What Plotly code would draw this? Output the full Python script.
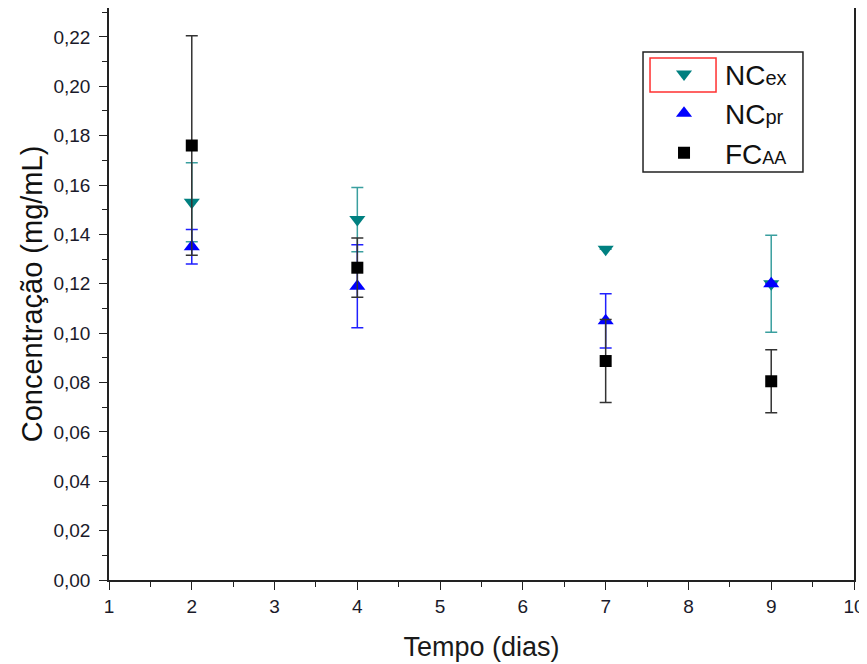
import plotly.graph_objects as go

days = [2, 4, 7, 9]
nc_ex = [0.153, 0.146, 0.134, 0.120]
nc_ex_err = [0.016, 0.013, 0.0, 0.0196]
nc_pr = [0.135, 0.119, 0.105, 0.120]
nc_pr_err = [0.007, 0.0168, 0.011, 0.0]
fc_aa = [0.176, 0.1265, 0.0887, 0.0805]
fc_aa_err = [0.0445, 0.012, 0.0168, 0.0128]

names = ["NC<span style='font-size:20px'>ex</span>",
         "NC<span style='font-size:20px'>pr</span>",
         "FC<span style='font-size:18px'>AA</span>"]

FONT = "Arial, Liberation Sans, sans-serif"
NARROW = "Liberation Sans Narrow, Arial Narrow, Liberation Sans, sans-serif"

fig = go.Figure()
fig.add_trace(go.Scatter(
    x=days, y=nc_ex, mode="markers", name=names[0],
    marker=dict(symbol="triangle-down", size=14, color="#008080"),
    error_y=dict(type="data", array=nc_ex_err, color="#3a9f9f", thickness=1.5, width=6)))
fig.add_trace(go.Scatter(
    x=days, y=nc_pr, mode="markers", name=names[1],
    marker=dict(symbol="triangle-up", size=14, color="#0000ff"),
    error_y=dict(type="data", array=nc_pr_err, color="#2020ff", thickness=1.5, width=6)))
fig.add_trace(go.Scatter(
    x=days, y=fc_aa, mode="markers", name=names[2],
    marker=dict(symbol="square", size=12, color="#000000"),
    error_y=dict(type="data", array=fc_aa_err, color="#333333", thickness=1.5, width=6)))

axis_font = dict(family=FONT, size=19, color="#1a1a2a")

fig.update_layout(
    width=859, height=656,
    margin=dict(l=101, r=13, t=0, b=84),
    plot_bgcolor="white", paper_bgcolor="white",
    separators=",.",
    font=dict(family=FONT, color="#111111"),
    xaxis=dict(range=[1, 10], dtick=1, tick0=1, showgrid=False, zeroline=False, automargin=False,
               showline=True, linecolor="#222222", linewidth=1.5,
               ticks="outside", ticklen=8, tickwidth=1.2, tickcolor="#222222",
               minor=dict(ticks="outside", ticklen=5, dtick=0.5, tickcolor="#222222", showgrid=False),
               tickfont=axis_font,
               title=dict(text="Tempo (dias)", font=dict(size=27, family=FONT, color="#1a1a1a"), standoff=22)),
    yaxis=dict(range=[0, 0.2317], dtick=0.02, tick0=0, tickformat=".2f", showgrid=False, zeroline=False,
               automargin=False, ticklabelstandoff=5,
               showline=True, linecolor="#222222", linewidth=1.5, mirror=True,
               ticks="outside", ticklen=8, tickwidth=1.2, tickcolor="#222222",
               minor=dict(ticks="outside", ticklen=5, dtick=0.01, tickcolor="#222222", showgrid=False),
               tickfont=axis_font,
               title=dict(text="Concentração (mg/mL)", font=dict(size=29, family=FONT, color="#111111"), standoff=2)),
    legend=dict(x=0.7168, y=0.928, xanchor="left", yanchor="top",
                bgcolor="rgba(255,255,255,0)", borderwidth=0,
                font=dict(size=28, family=NARROW, color="#111111"),
                itemwidth=72, tracegroupgap=4),
    showlegend=True,
)

# legend frame and the red highlight box around the first entry
fig.add_shape(type="rect", xref="paper", yref="paper",
              x0=0.7168, x1=0.9315, y0=0.7133, y1=0.923,
              line=dict(color="#222222", width=1.5), layer="above")
fig.add_shape(type="rect", xref="paper", yref="paper",
              x0=0.7262, x1=0.8148, y0=0.8531, y1=0.9126,
              line=dict(color="#ff3030", width=1.5), layer="above")

fig.write_html("out.html")
